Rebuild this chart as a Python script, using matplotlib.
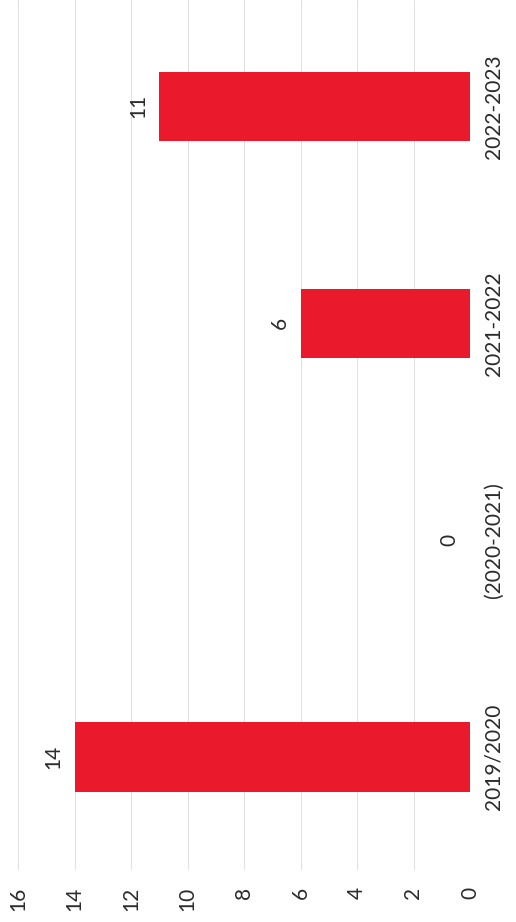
import matplotlib
matplotlib.use("Agg")
import matplotlib.pyplot as plt

# Données (graphique scanné, pivoté de 90°)
categories = ["2019/2020", "(2020-2021)", "2021-2022", "2022-2023"]
values = [14, 0, 6, 11]
value_ticks = [0, 2, 4, 6, 8, 10, 12, 14, 16]

BAR_COLOR = "#EA1A2C"
TEXT_COLOR = "#2b2b2b"
FONT = ["Lato", "DejaVu Sans"]
FS = 15

fig = plt.figure(figsize=(5.16, 9.22), dpi=100)
ax = fig.add_axes([18 / 516, 52 / 922, (470 - 18) / 516, 870 / 922])

pos = list(range(len(categories)))
ax.barh(pos, values, height=0.32, color=BAR_COLOR, linewidth=0, zorder=3)

ax.set_xlim(16, 0)
ax.set_ylim(-0.52, 3.49)

ax.set_xticks(value_ticks)
ax.set_xticklabels([str(v) for v in value_ticks], rotation=90,
                   fontsize=FS, color=TEXT_COLOR, family=FONT)
ax.tick_params(axis="x", length=0, pad=12)

ax.yaxis.tick_right()
ax.set_yticks(pos)
ax.set_yticklabels(categories, rotation=90, va="center",
                   fontsize=FS, color=TEXT_COLOR, family=FONT)
ax.tick_params(axis="y", length=0, pad=10)

ax.grid(axis="x", color="#e0e0e0", linewidth=0.7, zorder=0)
ax.grid(axis="y", visible=False)
for s in ax.spines.values():
    s.set_visible(False)

# étiquettes de valeur
for p, v in zip(pos, values):
    ax.annotate(str(v), xy=(v, p), xytext=(-15, 0), textcoords="offset points",
                rotation=90, ha="center", va="center", fontsize=FS,
                color=TEXT_COLOR, family=FONT)

fig.savefig("out.png", dpi=100)
